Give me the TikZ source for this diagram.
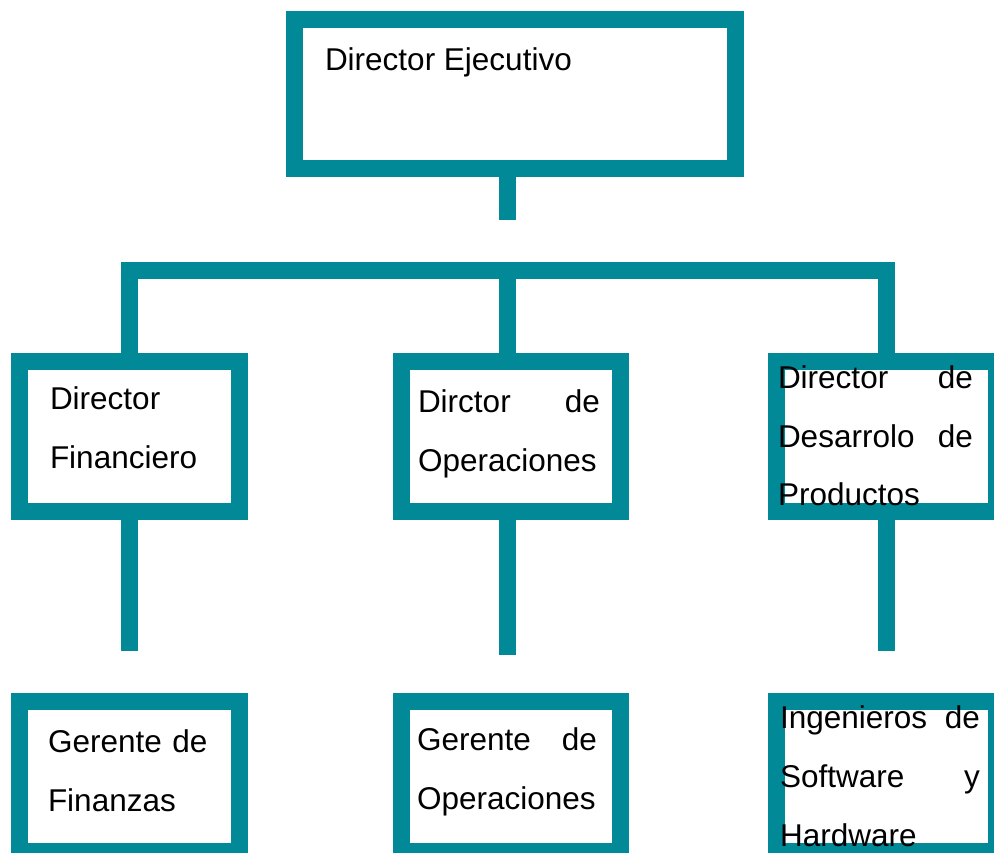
\documentclass[tikz,border=0pt]{standalone}
\usepackage{fontspec}
\setmainfont{Liberation Sans}
\definecolor{orgteal}{RGB}{2,137,152}
\begin{document}
\begin{tikzpicture}[x=1pt,y=-1pt,
  orgbox/.style={draw=orgteal, line width=17pt, fill=white, rectangle, inner sep=0pt, outer sep=8.5pt},
  conn/.style={draw=orgteal, line width=17pt, line cap=butt, line join=miter},
  lbl/.style={anchor=base west, inner sep=0pt, outer sep=0pt, align=left, font=\fontsize{31.5}{59}\selectfont}]
\useasboundingbox (0,0) rectangle (994,853);
\clip (0,0) rectangle (994,853);
% coordinates for connector routing
\coordinate (spine) at (507.5,0);
\coordinate (bar) at (0,270.5);
\coordinate (stemend) at (0,220);
\coordinate (lowend) at (0,651);
\coordinate (lowmid) at (0,655);
% boxes
\node[orgbox, minimum width=441pt, minimum height=149pt] (ceo) at (515,94) {};
\node[orgbox, minimum width=220pt, minimum height=150pt] (cfo) at (129.5,436.5) {};
\node[orgbox, minimum width=219pt, minimum height=150pt] (coo) at (511,436.5) {};
\node[orgbox, minimum width=220pt, minimum height=150pt] (cpo) at (886.5,436.5) {};
\node[orgbox, minimum width=220pt, minimum height=150pt] (gf) at (129.5,776.5) {};
\node[orgbox, minimum width=219pt, minimum height=150pt] (go) at (511,776.5) {};
\node[orgbox, minimum width=220pt, minimum height=150pt] (ing) at (886.5,776.5) {};
% connectors
\draw[conn] (spine |- ceo.south) -- (spine |- stemend);
\draw[conn] (cfo.north) -- (cfo.north |- bar) -- (cpo.north |- bar) -- (cpo.north);
\draw[conn] (spine |- bar) -- (spine |- coo.north);
\draw[conn] (cfo.south) -- (cfo.south |- lowend);
\draw[conn] (spine |- coo.south) -- (spine |- lowmid);
\draw[conn] (cpo.south) -- (cpo.south |- lowend);
% labels
\node[lbl] (t-ceo) at (325,71) {Director Ejecutivo};
\node[lbl, text width=200pt] (t-cfo) at (50,409) {Director\\Financiero};
\node[lbl, text width=182pt] (t-coo) at (418,412) {Dirctor\hfill de\\Operaciones};
\node[lbl, text width=195pt] (t-cpo) at (778,388) {Director\hfill de\\Desarrolo\hfill de\\Productos};
\node[lbl, text width=200pt] (t-gf) at (48,752) {Gerente de\\Finanzas};
\node[lbl, text width=180pt] (t-go) at (417,750) {Gerente\hfill de\\Operaciones};
\node[lbl, text width=200pt] (t-ing) at (780,728) {Ingenieros\hfill de\\Software\hfill y\\Hardware};
\end{tikzpicture}
\end{document}
